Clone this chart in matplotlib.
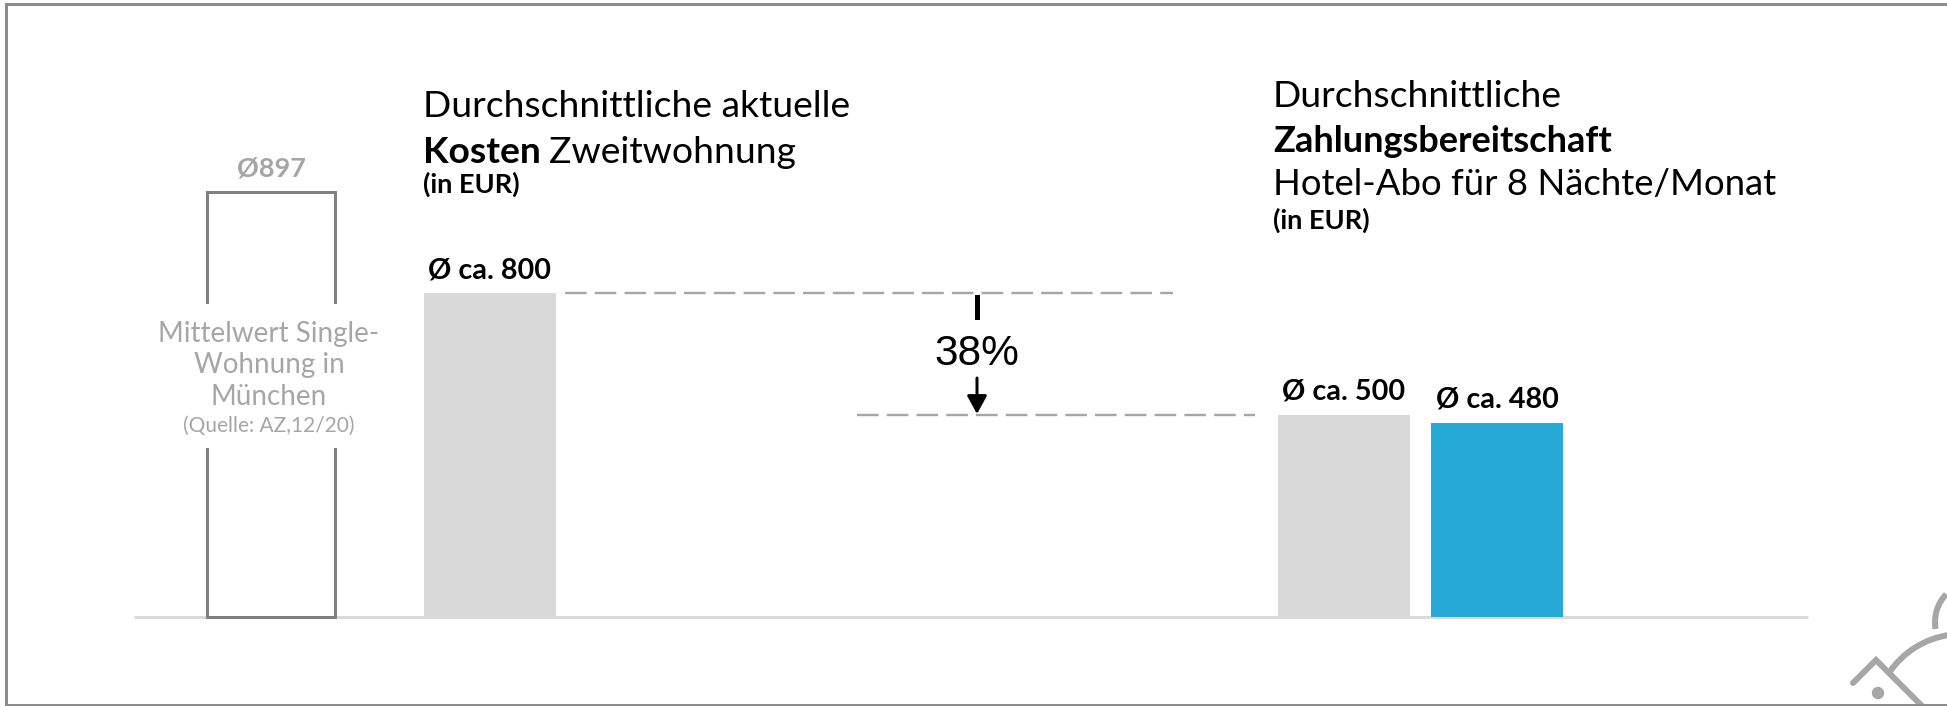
import numpy as np
import matplotlib
matplotlib.use("Agg")
import matplotlib.pyplot as plt
from matplotlib.patches import Rectangle, Arc, Circle

# data
ref_label = "Ø897"
ref_box = 1050          # the reference box is drawn taller than scale in the original
cat_labels = ["Ø ca. 800", "Ø ca. 500", "Ø ca. 480"]
values = [800, 500, 480]
pct_label = "38%"

W, H = 1947, 706
DPI = 100
ppu = 0.4045            # pixels per EUR
base_px = 617           # baseline, pixels from top

GREY_BAR = "#d9d9d9"
BLUE = "#26a9d6"
OUTLINE = "#7f7f7f"
LIGHT_TXT = "#a6a6a6"

plt.rcParams["font.family"] = ["Lato", "DejaVu Sans"]

fig = plt.figure(figsize=(W / DPI, H / DPI), dpi=DPI)
ax = fig.add_axes([0, 0, 1, 1])
ax.set_xlim(0, W)
ax.set_ylim(-(H - base_px) / ppu, base_px / ppu)
ax.axis("off")


def fp(x, y):
    # pixel (from top-left) -> figure fraction
    return x / W, 1 - y / H


def ftext(x, y, s, **kw):
    return fig.text(x / W, 1 - y / H, s, va="baseline", **kw)


pt = 0.72  # points per pixel at dpi 100

# outlined reference box
ax.bar(271, ref_box, width=128, fill=False, edgecolor=OUTLINE, linewidth=3 * pt, zorder=2)
ax.add_patch(Rectangle((195, (base_px - 448) / ppu), 150, 144 / ppu,
                       facecolor="white", edgecolor="none", zorder=3))
ax.annotate(ref_label, (271, ref_box), xytext=(0, 16 * pt), textcoords="offset points",
            ha="center", va="baseline", fontsize=19.5, fontweight="bold", color=LIGHT_TXT)
for txt, y, fs in [("Mittelwert Single-", 342, 20), ("Wohnung in", 373, 20),
                   ("München", 405, 20), ("(Quelle: AZ,12/20)", 432, 15)]:
    ftext(269, y, txt, ha="center", fontsize=fs, color=LIGHT_TXT, zorder=4)

# bars
xs = [489.5, 1343.5, 1497]
colors = [GREY_BAR, GREY_BAR, BLUE]
ax.bar(xs, values, width=132, color=colors, zorder=2)
for x, v, lab in zip(xs, values, cat_labels):
    ax.annotate(lab, (x, v), xytext=(0, 15 * pt), textcoords="offset points",
                ha="center", va="baseline", fontsize=20.7, fontweight="bold", color="black")

# baseline
ax.plot([134, 1808], [0, 0], color=GREY_BAR, linewidth=3 * pt, zorder=1, solid_capstyle="butt")

# dashed reference lines
ax.plot([565, 1173], [values[0], values[0]], color="#a6a6a6", linewidth=2.4 * pt,
        linestyle=(0, (9, 3.4)), zorder=1)
ax.plot([857, 1255], [values[1], values[1]], color="#a6a6a6", linewidth=2.4 * pt,
        linestyle=(0, (9, 3.4)), zorder=1)

# 38% marker
xa = 977
fig.add_artist(plt.Line2D([fp(xa, 297)[0]] * 2, [fp(xa, 297)[1], fp(xa, 317)[1]],
                          transform=fig.transFigure, color="black", linewidth=5 * pt))
fig.text(xa / W, 1 - 365 / H, pct_label, ha="center", va="baseline",
         fontsize=30.5, family=["Liberation Sans", "DejaVu Sans"], color="black")
ax.annotate("", xy=fp(xa, 414), xytext=fp(xa, 378), xycoords="figure fraction",
            textcoords="figure fraction",
            arrowprops=dict(arrowstyle="-|>,head_length=0.55,head_width=0.3",
                            mutation_scale=20, color="black", lw=3 * pt,
                            shrinkA=0, shrinkB=0))

# titles
TS = 26.8
ftext(423, 117, "Durchschnittliche aktuelle", fontsize=TS)
t = ftext(423, 163, "Kosten", fontsize=TS, fontweight="bold")
fig.canvas.draw()
bb = t.get_window_extent()
ftext(bb.x1 + 8, 163, "Zweitwohnung", fontsize=TS)
ftext(423, 193, "(in EUR)", fontsize=19.5, fontweight="bold")

ftext(1273, 107, "Durchschnittliche", fontsize=TS)
ftext(1273, 152, "Zahlungsbereitschaft", fontsize=26, fontweight="bold")
ftext(1273, 195, "Hotel-Abo für 8 Nächte/Monat", fontsize=26.3)
ftext(1273, 229, "(in EUR)", fontsize=19.5, fontweight="bold")

# frame lines (left, top, bottom)
for (x0, y0), (x1, y1) in [((5.5, 3.5), (5.5, 704.5)), ((5.5, 3.5), (W, 3.5)),
                           ((5.5, 704.5), (W, 704.5))]:
    fig.add_artist(plt.Line2D([x0 / W, x1 / W], [1 - y0 / H, 1 - y1 / H],
                              transform=fig.transFigure, color="#8c8c8c", linewidth=3 * pt))

# logo fragment bottom right (pixel coords, y up)
lc = "#a6a6a6"
oax = fig.add_axes([0, 0, 1, 1], facecolor="none")
oax.set_xlim(0, W)
oax.set_ylim(0, H)
oax.axis("off")
oax.plot([1853, 1876, 1925], [H - 683, H - 660, H - 709], color=lc, linewidth=6 * pt,
         solid_capstyle="round", solid_joinstyle="miter")
oax.add_patch(Arc((1962, H - 722), 176, 176, theta1=98, theta2=146, color=lc, lw=6 * pt))
oax.add_patch(Arc((1975, H - 622), 80, 80, theta1=136, theta2=190, color=lc, lw=6 * pt))
oax.add_patch(Circle((1878, H - 693), 5.5, color=lc))

fig.savefig("out.png", dpi=DPI)
